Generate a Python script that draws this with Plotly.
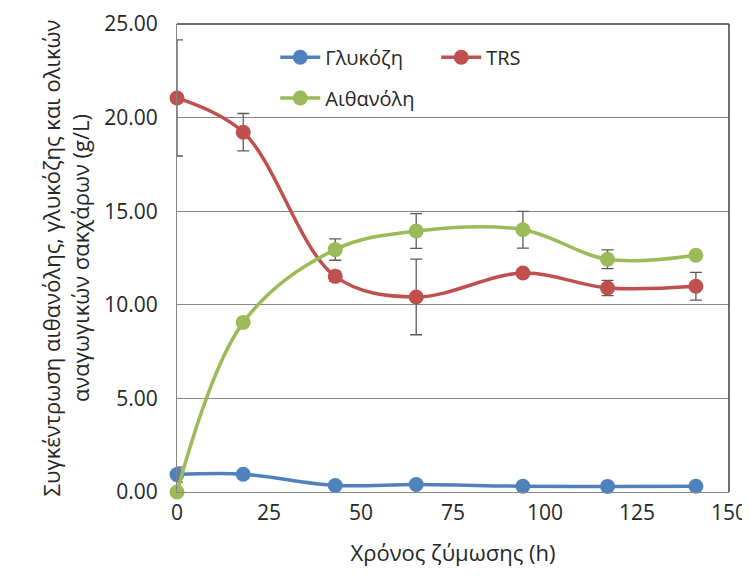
import plotly.graph_objects as go

time_h = [0, 18, 43, 65, 94, 117, 141]
glucose = [0.93, 0.95, 0.35, 0.40, 0.31, 0.30, 0.31]
glucose_err = [0.4, 0, 0, 0, 0, 0, 0]
trs = [21.05, 19.22, 11.52, 10.42, 11.70, 10.90, 10.99]
trs_err = [3.1, 1.0, 0.27, 2.02, 0, 0.41, 0.74]
ethanol = [0.0, 9.06, 12.95, 13.94, 14.01, 12.43, 12.65]
ethanol_err = [0, 0, 0.57, 0.93, 0.98, 0.5, 0]

y_ticks = [0, 5, 10, 15, 20, 25]
x_ticks = [0, 25, 50, 75, 100, 125, 150]

FONT = "Open Sans"
ERR = dict(type="data", visible=True, color="#5a5a5a", thickness=1.3, width=6)

fig = go.Figure()

def add(name, y, err, color, legend):
    fig.add_trace(go.Scatter(
        x=time_h, y=y, name=name, mode="lines+markers",
        line=dict(color=color, width=3.5, shape="spline", smoothing=1.0),
        marker=dict(color=color, size=15),
        error_y=dict(array=err, **ERR),
        cliponaxis=False, legend=legend,
    ))

add("Γλυκόζη", glucose, glucose_err, "#4F81BD", "legend")
add("TRS", trs, trs_err, "#C0504D", "legend")
add("Αιθανόλη", ethanol, ethanol_err, "#9BBB59", "legend2")

fig.update_layout(
    width=742, height=568,
    margin=dict(l=169, r=21, t=16, b=84, autoexpand=False),
    paper_bgcolor="white", plot_bgcolor="white",
    font=dict(family=FONT, size=21, color="#262626"),
    showlegend=True,
    legend=dict(orientation="h", x=0.178, y=0.929, xanchor="left", yanchor="middle",
                bgcolor="rgba(0,0,0,0)", font=dict(size=20), itemwidth=40,
                entrywidth=106, tracegroupgap=0),
    legend2=dict(orientation="h", x=0.178, y=0.842, xanchor="left", yanchor="middle",
                 bgcolor="rgba(0,0,0,0)", font=dict(size=20), itemwidth=40),
    xaxis=dict(range=[0, 150], tickvals=x_ticks, showgrid=False, zeroline=False,
               showline=True, linecolor="#868686", linewidth=1, ticks="",
               automargin=False, ticklabelstandoff=2,
               title=dict(text="Χρόνος ζύμωσης (h)", standoff=20, font=dict(size=22))),
    yaxis=dict(range=[0, 25], tickvals=y_ticks, tickformat=".2f", showgrid=True,
               gridcolor="#868686", gridwidth=1, zeroline=False,
               showline=True, linecolor="#868686", linewidth=1, ticks="",
               ticklabelstandoff=14, automargin=False,
               title=dict(text="Συγκέντρωση αιθανόλης, γλυκόζης και ολικών<br>αναγωγικών σακχάρων (g/L)",
                          standoff=8, font=dict(size=22))),
)

fig.add_shape(type="line", xref="paper", yref="paper", x0=1, x1=1, y0=0, y1=1,
              line=dict(color="#404040", width=1.5))
fig.add_shape(type="line", xref="paper", yref="paper", x0=0, x1=1, y0=1, y1=1,
              line=dict(color="#404040", width=1.5))

fig.write_html("out.html")
